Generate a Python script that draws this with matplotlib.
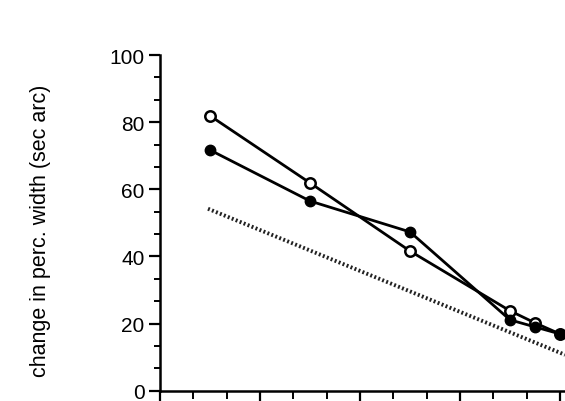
import matplotlib.pyplot as plt
from matplotlib.ticker import MultipleLocator, AutoMinorLocator

plt.rcParams['font.family'] = ['Liberation Sans', 'DejaVu Sans']

# open circles
x_open = [0.5, 1.5, 2.5, 3.5, 3.75, 4.0]
y_open = [81.9, 61.9, 41.6, 23.8, 20.2, 16.9]

# filled circles
x_fill = [0.5, 1.5, 2.5, 3.5, 3.75, 4.0]
y_fill = [71.7, 56.5, 47.3, 21.1, 19.0, 16.9]

# dotted reference line
x_ref = [0.48, 4.05]
y_ref = [54.2, 10.7]

y_ticks = [0, 20, 40, 60, 80, 100]
ylabel = "change in perc. width (sec arc)"

fig = plt.figure(figsize=(5.65, 4.02), dpi=100)
ax = fig.add_axes([160 / 565, 10.3 / 402, 405 / 565, 335.7 / 402])

ax.plot(x_ref, y_ref, color="#222222", lw=2.8, linestyle=(0, (0.5, 0.6)))
ax.plot(x_open, y_open, color="black", lw=2.0, marker="o", ms=7.5,
        mfc="white", mec="black", mew=1.8, zorder=3)
ax.plot(x_fill, y_fill, color="black", lw=2.0, marker="o", ms=7.5,
        mfc="black", mec="black", zorder=4)

ax.set_xlim(0, 4.05)
ax.set_ylim(0, 100)
ax.set_yticks(y_ticks)
ax.yaxis.set_minor_locator(AutoMinorLocator(3))
ax.xaxis.set_major_locator(MultipleLocator(1))
ax.xaxis.set_minor_locator(AutoMinorLocator(3))
ax.set_xticklabels([])

for s in ["top", "right"]:
    ax.spines[s].set_visible(False)
for s in ["left", "bottom"]:
    ax.spines[s].set_linewidth(1.8)

ax.tick_params(axis="both", which="major", direction="out", length=8, width=1.6,
               labelsize=15, pad=3)
ax.tick_params(axis="both", which="minor", direction="out", length=4, width=1.4)
ax.tick_params(axis="x", which="major", length=9)
ax.tick_params(axis="x", which="minor", length=6)

ax.set_ylabel(ylabel, fontsize=15.5)
ax.yaxis.set_label_coords(-0.268, 0.48)

fig.savefig("out.png", dpi=100)
